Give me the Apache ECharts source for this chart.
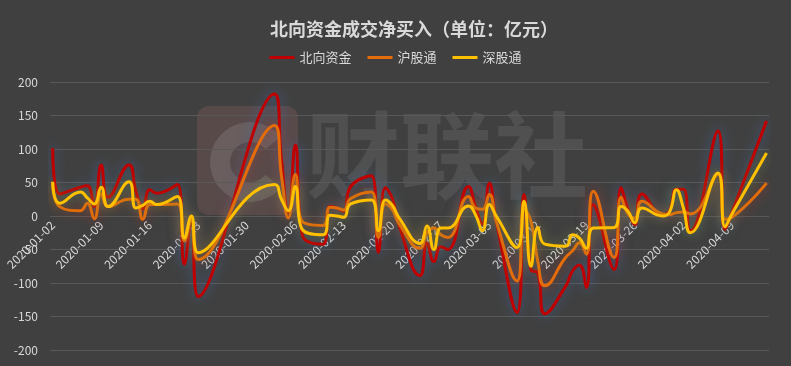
<!DOCTYPE html>
<html>
<head>
<meta charset="utf-8">
<script src="https://cdn.jsdelivr.net/npm/echarts@6/dist/echarts.min.js"></script>
<style>
html,body{margin:0;padding:0;background:#404040;}
#chart{width:791px;height:366px;}
</style>
</head>
<body>
<div id="chart"></div>
<script>
// ---- data ----
var titleText = '北向资金成交净买入（单位：亿元）';
var seriesNames = ['北向资金', '沪股通', '深股通'];
var dates = [
'2020-01-02','2020-01-03','2020-01-06','2020-01-07','2020-01-08','2020-01-09','2020-01-10','2020-01-13','2020-01-14','2020-01-15','2020-01-16','2020-01-17','2020-01-20','2020-01-21','2020-01-22','2020-01-23',
'2020-02-03','2020-02-04','2020-02-05','2020-02-06','2020-02-07','2020-02-10','2020-02-11','2020-02-12','2020-02-13','2020-02-14','2020-02-17','2020-02-18','2020-02-19','2020-02-20','2020-02-21','2020-02-24','2020-02-25','2020-02-26','2020-02-27','2020-02-28',
'2020-03-02','2020-03-03','2020-03-04','2020-03-05','2020-03-06','2020-03-09','2020-03-10','2020-03-11','2020-03-12','2020-03-13','2020-03-16','2020-03-17','2020-03-18','2020-03-19','2020-03-20','2020-03-23','2020-03-24','2020-03-25','2020-03-26','2020-03-27','2020-03-30','2020-03-31',
'2020-04-01','2020-04-02','2020-04-03','2020-04-07','2020-04-08','2020-04-09','2020-04-14'
];
var northbound = [
101, 33, 43, 45, 14, 76, 28, 76, 37, 11, 39, 34, 47, -72, -5, -120,
182, 85, 5, 106, -28, -42, 14, 12, 7, 44, 60, -54, 42, 26, -15, -89, -40, -68, -46, -50,
44, 14, -12, 49, -8, -144, 32, -80, -85, -146, -105, -82, -73, -107, 17, -80, 42, 10, -13, 33, 2, 8,
40, 40, -22, 127, -20, 5, 142
];
var shanghai = [
50, 14, 8, 19, -4, 33, 14, 25, 25, -5, 17, 17, 18, -37, -5, -65,
135, 60, -3, 62, -8, -14, 13, 12, 9, 26, 36, -32, 18, 10, -12, -48, -25, -18, -28, -32,
29, 12, 10, 32, -8, -97, 10, -8, -68, -104, -62, -52, -40, -57, 37, -62, 28, 3, -3, 22, 3, 2,
5, 6, 3, 62, -5, -2, 49
];
var shenzhen = [
51, 19, 36, 27, 18, 43, 14, 51, 12, 16, 22, 17, 29, -33, 0, -55,
47, 25, 8, 44, -20, -28, 1, 0, -2, 18, 24, -22, 24, 16, -3, -41, -15, -50, -18, -18,
15, 2, -22, 17, 0, -47, 22, -75, -17, -42, -45, -28, -33, -48, -18, -17, 14, 7, -10, 12, 0, 6,
39, 12, -25, 64, -16, 3, 94
];
var xTickLabels = ['2020-01-02','2020-01-09','2020-01-16','2020-01-23','2020-01-30','2020-02-06','2020-02-13','2020-02-20','2020-02-27','2020-03-05','2020-03-12','2020-03-19','2020-03-26','2020-04-02','2020-04-09'];
var yTicks = [-200, -150, -100, -50, 0, 50, 100, 150, 200];

// ---- helpers ----
var DAY = 86400000;
function toDate(s){ var p = s.split('-'); return Date.UTC(+p[0], +p[1]-1, +p[2]); }
var base = toDate(dates[0]);
function dayIndex(s){ return Math.round((toDate(s) - base) / DAY); }
function pairs(vals){ return dates.map(function(d,i){ return [dayIndex(d), vals[i]]; }); }
var labelMap = {};
xTickLabels.forEach(function(s){ labelMap[dayIndex(s)] = s; });

var gridTop = 82, gridBottom = 16, chartH = 366;
var yMin = yTicks[0], yMax = yTicks[yTicks.length-1];
// move the category labels up to the zero line (axis crosses at 0)
var plotH = chartH - gridTop - gridBottom;
var zeroOffset = -plotH * (0 - yMin) / (yMax - yMin);

var chart = echarts.init(document.getElementById('chart'), null, {renderer:'canvas'});
var fontCJK = '"Noto Sans CJK SC", "Noto Sans", sans-serif';
var txt = '#d9d9d9';

function lineSeries(name, vals, color, glow){
  return {
    name: name, type: 'line', data: pairs(vals), smooth: 0.5,
    showSymbol: false, symbol: 'none',
    lineStyle: {color: color, width: 3, shadowBlur: 12, shadowColor: glow},
    itemStyle: {color: color},
    emphasis: {disabled: true}
  };
}

chart.setOption({
  backgroundColor: '#404040',
  animation: false,
  title: {
    text: titleText, left: 409, top: 15, textAlign: 'center',
    textStyle: {color: txt, fontSize: 18, fontWeight: 'bold', fontFamily: fontCJK}
  },
  legend: {
    data: seriesNames, left: 'center', top: 46, itemGap: 16,
    icon: 'rect', itemWidth: 25, itemHeight: 3,
    textStyle: {color: txt, fontSize: 13, fontFamily: fontCJK}
  },
  grid: {left: 50, right: 22, top: gridTop, bottom: gridBottom, containLabel: false, outerBoundsMode: 'none'},
  xAxis: {
    type: 'value', min: -0.39, max: 103.35, position: 'bottom', offset: zeroOffset,
    axisLine: {show: false, onZero: false},
    axisTick: {show: false},
    splitLine: {show: false},
    axisLabel: {
      customValues: xTickLabels.map(dayIndex),
      rotate: 45, margin: 7, color: txt, fontSize: 12, fontFamily: fontCJK,
      formatter: function(v){ return labelMap[Math.round(v)] || ''; }
    }
  },
  yAxis: {
    type: 'value', min: yMin, max: yMax, interval: 50,
    axisLine: {show: false, onZero: false}, axisTick: {show: false},
    splitLine: {lineStyle: {color: '#595959', width: 1}},
    axisLabel: {color: txt, fontSize: 12, margin: 12, fontFamily: fontCJK}
  },
  graphic: [
    {type: 'rect', silent: true, z: 0, shape: {x: 197, y: 106, width: 101, height: 109, r: 12},
     style: {fill: 'rgba(150,100,100,0.3)'}},
    {type: 'sector', silent: true, z: 0, shape: {cx: 250, cy: 162, r: 40, r0: 20, startAngle: Math.PI*0.22, endAngle: Math.PI*1.78},
     style: {fill: 'rgba(170,170,170,0.22)'}},
    {type: 'text', silent: true, z: 0, x: 447, y: 108,
     style: {text: '财联社', x: 0, y: 0, textAlign: 'center', textVerticalAlign: 'top', fill: 'rgba(255,255,255,0.085)', fontSize: 94, fontWeight: 'bold', fontFamily: fontCJK}}
  ],
  series: [
    lineSeries(seriesNames[0], northbound, '#C00000', 'rgba(70,110,170,0.8)'),
    lineSeries(seriesNames[1], shanghai, '#E46C0A', 'rgba(200,60,40,0.65)'),
    lineSeries(seriesNames[2], shenzhen, '#FFC000', 'rgba(130,160,60,0.65)')
  ]
});
</script>
</body>
</html>
